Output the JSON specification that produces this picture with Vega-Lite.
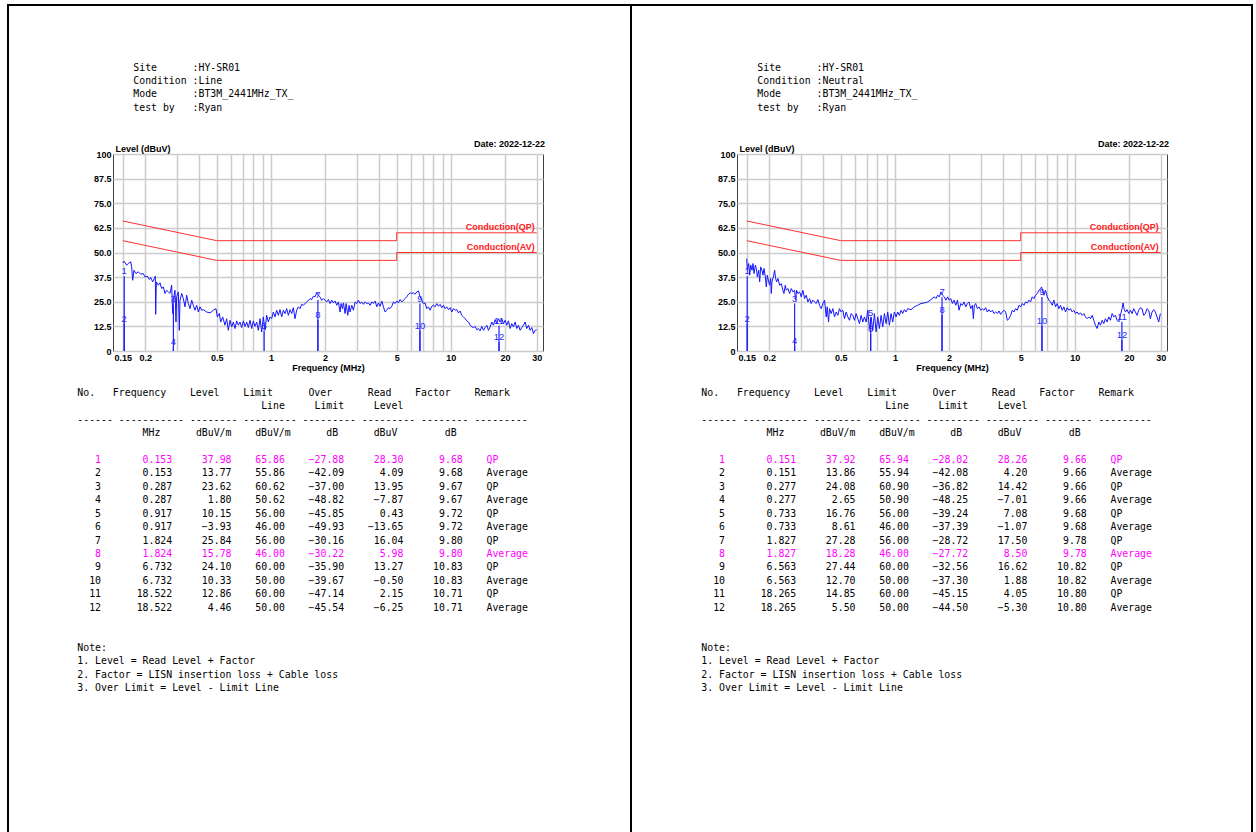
{
"$schema": "https://vega.github.io/schema/vega-lite/v6.json",
"padding": {"left": 7, "top": 4, "right": 0, "bottom": 0},
"config": {"view": {"stroke": null}, "font": "Liberation Sans", "concat": {"spacing": 0},
 "axis": {"grid": true, "gridColor": "#cccccc", "gridWidth": 1.5, "domain": false, "ticks": false, "tickSize": 0, "labelPadding": 2, "labelFont": "Liberation Sans", "labelFontSize": 9, "labelFontWeight": "bold", "labelColor": "#000000", "labelOverlap": false, "labelFlush": false, "labelBound": false, "titleFont": "Liberation Sans", "titleFontSize": 9, "titleFontWeight": "bold", "titleColor": "#000000"},
 "axisX": {"titlePadding": 1},
 "axisY": {"titleAngle": 0, "titleAlign": "left", "titleBaseline": "bottom", "titleX": 2, "titleY": -1}},
"datasets": {
"line_info": [{"item":"Site","value":"HY-SR01"},{"item":"Condition","value":"Line"},{"item":"Mode","value":"BT3M_2441MHz_TX_"},{"item":"test by","value":"Ryan"}],
"neutral_info": [{"item":"Site","value":"HY-SR01"},{"item":"Condition","value":"Neutral"},{"item":"Mode","value":"BT3M_2441MHz_TX_"},{"item":"test by","value":"Ryan"}],
"limits": [
{"limit":"Conduction(QP)","f":0.15,"v":66},{"limit":"Conduction(QP)","f":0.5,"v":56},{"limit":"Conduction(QP)","f":5,"v":56},{"limit":"Conduction(QP)","f":5,"v":60},{"limit":"Conduction(QP)","f":30,"v":60},
{"limit":"Conduction(AV)","f":0.15,"v":56},{"limit":"Conduction(AV)","f":0.5,"v":46},{"limit":"Conduction(AV)","f":5,"v":46},{"limit":"Conduction(AV)","f":5,"v":50},{"limit":"Conduction(AV)","f":30,"v":50}],
"line_peaks": [
{"no":1,"freq":0.153,"level":37.98,"limit":65.86,"over":-27.88,"read":28.30,"factor":9.68,"remark":"QP"},
{"no":2,"freq":0.153,"level":13.77,"limit":55.86,"over":-42.09,"read":4.09,"factor":9.68,"remark":"Average"},
{"no":3,"freq":0.287,"level":23.62,"limit":60.62,"over":-37.00,"read":13.95,"factor":9.67,"remark":"QP"},
{"no":4,"freq":0.287,"level":1.80,"limit":50.62,"over":-48.82,"read":-7.87,"factor":9.67,"remark":"Average"},
{"no":5,"freq":0.917,"level":10.15,"limit":56.00,"over":-45.85,"read":0.43,"factor":9.72,"remark":"QP"},
{"no":6,"freq":0.917,"level":-3.93,"limit":46.00,"over":-49.93,"read":-13.65,"factor":9.72,"remark":"Average"},
{"no":7,"freq":1.824,"level":25.84,"limit":56.00,"over":-30.16,"read":16.04,"factor":9.80,"remark":"QP"},
{"no":8,"freq":1.824,"level":15.78,"limit":46.00,"over":-30.22,"read":5.98,"factor":9.80,"remark":"Average"},
{"no":9,"freq":6.732,"level":24.10,"limit":60.00,"over":-35.90,"read":13.27,"factor":10.83,"remark":"QP"},
{"no":10,"freq":6.732,"level":10.33,"limit":50.00,"over":-39.67,"read":-0.50,"factor":10.83,"remark":"Average"},
{"no":11,"freq":18.522,"level":12.86,"limit":60.00,"over":-47.14,"read":2.15,"factor":10.71,"remark":"QP"},
{"no":12,"freq":18.522,"level":4.46,"limit":50.00,"over":-45.54,"read":-6.25,"factor":10.71,"remark":"Average"}],
"neutral_peaks": [
{"no":1,"freq":0.151,"level":37.92,"limit":65.94,"over":-28.02,"read":28.26,"factor":9.66,"remark":"QP"},
{"no":2,"freq":0.151,"level":13.86,"limit":55.94,"over":-42.08,"read":4.20,"factor":9.66,"remark":"Average"},
{"no":3,"freq":0.277,"level":24.08,"limit":60.90,"over":-36.82,"read":14.42,"factor":9.66,"remark":"QP"},
{"no":4,"freq":0.277,"level":2.65,"limit":50.90,"over":-48.25,"read":-7.01,"factor":9.66,"remark":"Average"},
{"no":5,"freq":0.733,"level":16.76,"limit":56.00,"over":-39.24,"read":7.08,"factor":9.68,"remark":"QP"},
{"no":6,"freq":0.733,"level":8.61,"limit":46.00,"over":-37.39,"read":-1.07,"factor":9.68,"remark":"Average"},
{"no":7,"freq":1.827,"level":27.28,"limit":56.00,"over":-28.72,"read":17.50,"factor":9.78,"remark":"QP"},
{"no":8,"freq":1.827,"level":18.28,"limit":46.00,"over":-27.72,"read":8.50,"factor":9.78,"remark":"Average"},
{"no":9,"freq":6.563,"level":27.44,"limit":60.00,"over":-32.56,"read":16.62,"factor":10.82,"remark":"QP"},
{"no":10,"freq":6.563,"level":12.70,"limit":50.00,"over":-37.30,"read":1.88,"factor":10.82,"remark":"Average"},
{"no":11,"freq":18.265,"level":14.85,"limit":60.00,"over":-45.15,"read":4.05,"factor":10.80,"remark":"QP"},
{"no":12,"freq":18.265,"level":5.50,"limit":50.00,"over":-44.50,"read":-5.30,"factor":10.80,"remark":"Average"}],
"line_trace": [
{"f":0.150,"v":44.7},{"f":0.1525,"v":45.6},{"f":0.1578,"v":43.6},{"f":0.1612,"v":44.4},{"f":0.1661,"v":45.3},{"f":0.1683,"v":42.7},{"f":0.1704,"v":35.9},{"f":0.1733,"v":41.0},{"f":0.1778,"v":39.3},{"f":0.1832,"v":40.2},{"f":0.1888,"v":39.0},{"f":0.1953,"v":39.3},{"f":0.1995,"v":37.6},{"f":0.2056,"v":38.0},{"f":0.2109,"v":36.3},{"f":0.2146,"v":37.3},{"f":0.2201,"v":35.1},{"f":0.2249,"v":36.8},{"f":0.2278,"v":38.0},{"f":0.2288,"v":18.6},{"f":0.2307,"v":35.1},{"f":0.2367,"v":33.4},{"f":0.2418,"v":34.6},{"f":0.2470,"v":31.7},{"f":0.2523,"v":32.5},{"f":0.2578,"v":29.2},{"f":0.2633,"v":30.8},{"f":0.2690,"v":30.0},{"f":0.2748,"v":29.2},{"f":0.2807,"v":33.4},{"f":0.2844,"v":19.0},{"f":0.2868,"v":25.8},{"f":0.2930,"v":30.8},{"f":0.2967,"v":14.7},{"f":0.2993,"v":27.5},{"f":0.3057,"v":30.0},{"f":0.3097,"v":10.5},{"f":0.3123,"v":25.8},{"f":0.3191,"v":29.2},{"f":0.3260,"v":26.6},{"f":0.3330,"v":22.4},{"f":0.3402,"v":28.3},{"f":0.3475,"v":24.1},{"f":0.3550,"v":21.5},{"f":0.3627,"v":25.8},{"f":0.3705,"v":23.2},{"f":0.3784,"v":20.7},{"f":0.3866,"v":23.2},{"f":0.3949,"v":19.8},{"f":0.4034,"v":22.4},{"f":0.4122,"v":20.7},{"f":0.4210,"v":21.0},{"f":0.4394,"v":19.8},{"f":0.4585,"v":19.3},{"f":0.4785,"v":20.7},{"f":0.4951,"v":21.5},{"f":0.5037,"v":17.3},{"f":0.5167,"v":19.0},{"f":0.5256,"v":14.7},{"f":0.5393,"v":17.3},{"f":0.5556,"v":13.1},{"f":0.5676,"v":16.4},{"f":0.5798,"v":10.5},{"f":0.5923,"v":15.6},{"f":0.6052,"v":12.2},{"f":0.6182,"v":14.7},{"f":0.6315,"v":11.4},{"f":0.6451,"v":15.3},{"f":0.6590,"v":13.1},{"f":0.6732,"v":14.7},{"f":0.6878,"v":11.9},{"f":0.7026,"v":15.3},{"f":0.7177,"v":12.5},{"f":0.7332,"v":14.7},{"f":0.7490,"v":11.9},{"f":0.7652,"v":15.6},{"f":0.7817,"v":11.4},{"f":0.7985,"v":15.3},{"f":0.8157,"v":12.5},{"f":0.8334,"v":14.7},{"f":0.8513,"v":10.5},{"f":0.8696,"v":16.4},{"f":0.8885,"v":9.7},{"f":0.9074,"v":17.3},{"f":0.9270,"v":10.5},{"f":0.9470,"v":18.1},{"f":0.9674,"v":14.7},{"f":0.9883,"v":17.3},{"f":1.0096,"v":16.4},{"f":1.0314,"v":19.8},{"f":1.0536,"v":17.3},{"f":1.0764,"v":20.7},{"f":1.0995,"v":18.1},{"f":1.1232,"v":21.0},{"f":1.1475,"v":17.3},{"f":1.1722,"v":20.7},{"f":1.1974,"v":19.0},{"f":1.2233,"v":21.5},{"f":1.2497,"v":18.1},{"f":1.2766,"v":21.0},{"f":1.3042,"v":19.0},{"f":1.3323,"v":22.0},{"f":1.3610,"v":16.4},{"f":1.3904,"v":20.7},{"f":1.4203,"v":22.4},{"f":1.4509,"v":21.5},{"f":1.4823,"v":23.7},{"f":1.5142,"v":23.2},{"f":1.5802,"v":24.9},{"f":1.6490,"v":26.6},{"f":1.6847,"v":26.1},{"f":1.7209,"v":27.8},{"f":1.7580,"v":27.5},{"f":1.7960,"v":29.5},{"f":1.8347,"v":28.3},{"f":1.8742,"v":27.5},{"f":1.9147,"v":25.8},{"f":1.9559,"v":26.6},
{"f":2.000,"v":25.8},{"f":2.043,"v":24.9},{"f":2.087,"v":26.1},{"f":2.132,"v":24.1},{"f":2.178,"v":25.8},{"f":2.225,"v":24.4},{"f":2.273,"v":25.4},{"f":2.322,"v":23.2},{"f":2.372,"v":24.9},{"f":2.423,"v":19.8},{"f":2.454,"v":24.1},{"f":2.497,"v":21.5},{"f":2.529,"v":24.4},{"f":2.583,"v":19.0},{"f":2.617,"v":24.1},{"f":2.673,"v":18.1},{"f":2.719,"v":23.2},{"f":2.754,"v":19.8},{"f":2.814,"v":23.2},{"f":2.874,"v":20.7},{"f":2.936,"v":24.9},{"f":3.000,"v":24.1},{"f":3.064,"v":25.8},{"f":3.130,"v":24.1},{"f":3.198,"v":24.9},{"f":3.267,"v":23.7},{"f":3.337,"v":24.9},{"f":3.410,"v":24.1},{"f":3.483,"v":24.4},{"f":3.558,"v":23.2},{"f":3.635,"v":24.9},{"f":3.713,"v":24.1},{"f":3.793,"v":25.4},{"f":3.875,"v":22.4},{"f":3.958,"v":24.4},{"f":4.044,"v":22.7},{"f":4.131,"v":25.4},{"f":4.220,"v":22.4},{"f":4.311,"v":19.8},{"f":4.404,"v":20.7},{"f":4.499,"v":22.0},{"f":4.596,"v":21.5},{"f":4.695,"v":22.7},{"f":4.796,"v":24.9},{"f":4.899,"v":24.1},{"f":5.005,"v":25.4},{"f":5.113,"v":24.4},{"f":5.223,"v":26.1},{"f":5.336,"v":24.9},{"f":5.451,"v":25.8},{"f":5.569,"v":26.6},{"f":5.689,"v":27.5},{"f":5.812,"v":28.8},{"f":5.937,"v":29.5},{"f":6.065,"v":29.2},{"f":6.196,"v":29.5},{"f":6.329,"v":28.8},{"f":6.466,"v":30.0},{"f":6.605,"v":30.5},{"f":6.747,"v":27.5},{"f":6.893,"v":25.8},{"f":7.042,"v":24.1},{"f":7.193,"v":24.4},{"f":7.349,"v":21.5},{"f":7.507,"v":22.4},{"f":7.669,"v":20.7},{"f":7.834,"v":22.7},{"f":8.003,"v":23.2},{"f":8.175,"v":22.4},{"f":8.352,"v":24.1},{"f":8.532,"v":22.7},{"f":8.716,"v":23.7},{"f":8.904,"v":22.0},{"f":9.096,"v":23.2},{"f":9.292,"v":21.5},{"f":9.493,"v":22.4},{"f":9.697,"v":21.0},{"f":9.906,"v":22.0},{"f":10.12,"v":19.8},{"f":10.34,"v":21.5},{"f":10.56,"v":20.7},{"f":10.79,"v":21.0},{"f":11.02,"v":19.3},{"f":11.26,"v":20.3},{"f":11.50,"v":18.1},{"f":11.75,"v":17.3},{"f":12.00,"v":16.4},{"f":12.26,"v":15.3},{"f":12.53,"v":14.7},{"f":12.80,"v":13.1},{"f":13.07,"v":12.2},{"f":13.35,"v":11.9},{"f":13.64,"v":12.5},{"f":13.94,"v":10.8},{"f":14.24,"v":11.4},{"f":14.54,"v":10.2},{"f":14.86,"v":12.5},{"f":15.18,"v":10.5},{"f":15.50,"v":11.9},{"f":15.84,"v":13.1},{"f":16.18,"v":10.5},{"f":16.53,"v":12.2},{"f":16.89,"v":14.7},{"f":17.25,"v":13.1},{"f":17.62,"v":15.9},{"f":18.00,"v":13.9},{"f":18.39,"v":16.4},{"f":18.79,"v":14.7},{"f":19.19,"v":16.4},{"f":19.61,"v":13.9},{"f":20.03,"v":15.6},{"f":20.46,"v":13.1},{"f":20.90,"v":15.3},{"f":21.35,"v":11.4},{"f":21.81,"v":13.9},{"f":22.28,"v":12.2},{"f":22.76,"v":14.7},{"f":23.26,"v":11.4},{"f":23.76,"v":13.1},{"f":24.27,"v":10.5},{"f":24.79,"v":11.9},{"f":25.33,"v":13.1},{"f":25.87,"v":14.7},{"f":26.43,"v":11.4},{"f":27.00,"v":13.1},{"f":27.58,"v":10.5},{"f":28.18,"v":11.9},{"f":28.78,"v":8.8},{"f":29.40,"v":10.5},{"f":30.00,"v":10.8}],
"neutral_trace": [
{"f":0.150,"v":46.9},{"f":0.1513,"v":41.0},{"f":0.1539,"v":44.4},{"f":0.1559,"v":38.5},{"f":0.1579,"v":43.6},{"f":0.1606,"v":41.0},{"f":0.1626,"v":44.4},{"f":0.1647,"v":39.3},{"f":0.1676,"v":43.6},{"f":0.1697,"v":41.9},{"f":0.1719,"v":37.6},{"f":0.1749,"v":41.0},{"f":0.1771,"v":35.1},{"f":0.1794,"v":42.7},{"f":0.1824,"v":41.0},{"f":0.1848,"v":38.5},{"f":0.1872,"v":41.9},{"f":0.1904,"v":37.6},{"f":0.1928,"v":32.5},{"f":0.1953,"v":38.5},{"f":0.1987,"v":35.1},{"f":0.2012,"v":33.4},{"f":0.2038,"v":36.8},{"f":0.2055,"v":29.2},{"f":0.2073,"v":35.1},{"f":0.2109,"v":37.6},{"f":0.2145,"v":41.0},{"f":0.2172,"v":36.8},{"f":0.2200,"v":35.1},{"f":0.2238,"v":36.8},{"f":0.2286,"v":33.4},{"f":0.2336,"v":34.2},{"f":0.2386,"v":30.8},{"f":0.2416,"v":29.2},{"f":0.2458,"v":33.4},{"f":0.2489,"v":30.8},{"f":0.2543,"v":31.7},{"f":0.2598,"v":29.2},{"f":0.2654,"v":31.7},{"f":0.2711,"v":30.0},{"f":0.2769,"v":30.8},{"f":0.2805,"v":25.8},{"f":0.2841,"v":30.8},{"f":0.2889,"v":29.2},{"f":0.2952,"v":30.0},{"f":0.3015,"v":27.5},{"f":0.3080,"v":30.8},{"f":0.3146,"v":26.6},{"f":0.3214,"v":28.3},{"f":0.3283,"v":24.9},{"f":0.3354,"v":26.6},{"f":0.3426,"v":24.1},{"f":0.3499,"v":25.8},{"f":0.3575,"v":24.9},{"f":0.3651,"v":24.1},{"f":0.3730,"v":26.1},{"f":0.3810,"v":23.2},{"f":0.3893,"v":21.5},{"f":0.3976,"v":24.1},{"f":0.4062,"v":25.8},{"f":0.4149,"v":17.3},{"f":0.4202,"v":22.4},{"f":0.4275,"v":14.7},{"f":0.4330,"v":21.5},{"f":0.4423,"v":19.0},{"f":0.4518,"v":21.5},{"f":0.4615,"v":17.3},{"f":0.4715,"v":19.8},{"f":0.4816,"v":18.1},{"f":0.4919,"v":21.5},{"f":0.5025,"v":19.8},{"f":0.5133,"v":20.7},{"f":0.5244,"v":16.4},{"f":0.5357,"v":19.8},{"f":0.5472,"v":17.3},{"f":0.5589,"v":15.6},{"f":0.5710,"v":19.0},{"f":0.5832,"v":18.1},{"f":0.5958,"v":15.6},{"f":0.6087,"v":19.0},{"f":0.6217,"v":16.4},{"f":0.6351,"v":13.9},{"f":0.6488,"v":18.1},{"f":0.6627,"v":14.7},{"f":0.6770,"v":17.3},{"f":0.6916,"v":14.7},{"f":0.7064,"v":20.7},{"f":0.7216,"v":11.4},{"f":0.7372,"v":17.3},{"f":0.7530,"v":10.5},{"f":0.7692,"v":19.0},{"f":0.7858,"v":9.7},{"f":0.8026,"v":17.3},{"f":0.8199,"v":11.4},{"f":0.8376,"v":18.1},{"f":0.8556,"v":12.2},{"f":0.8740,"v":19.0},{"f":0.8928,"v":13.9},{"f":0.9120,"v":19.8},{"f":0.9316,"v":13.1},{"f":0.9517,"v":19.0},{"f":0.9721,"v":14.7},{"f":0.9929,"v":19.8},{"f":1.0143,"v":17.3},{"f":1.0362,"v":19.8},{"f":1.0585,"v":18.1},{"f":1.0813,"v":20.7},{"f":1.1045,"v":19.0},{"f":1.1282,"v":21.0},{"f":1.1525,"v":19.8},{"f":1.1773,"v":21.5},{"f":1.2286,"v":21.0},{"f":1.2819,"v":22.4},{"f":1.3378,"v":23.2},{"f":1.3960,"v":24.1},{"f":1.4566,"v":24.4},{"f":1.5200,"v":24.9},{"f":1.5862,"v":26.1},{"f":1.6552,"v":27.5},{"f":1.6908,"v":26.6},{"f":1.7270,"v":28.3},{"f":1.7643,"v":27.5},{"f":1.8022,"v":30.0},{"f":1.8408,"v":28.3},{"f":1.8805,"v":27.5},{"f":1.9210,"v":25.8},{"f":1.9623,"v":27.5},
{"f":2.000,"v":25.8},{"f":2.043,"v":26.6},{"f":2.087,"v":24.1},{"f":2.132,"v":25.8},{"f":2.178,"v":23.2},{"f":2.225,"v":25.8},{"f":2.272,"v":20.7},{"f":2.321,"v":24.1},{"f":2.371,"v":23.2},{"f":2.422,"v":24.9},{"f":2.474,"v":22.4},{"f":2.528,"v":24.1},{"f":2.582,"v":24.9},{"f":2.638,"v":21.5},{"f":2.694,"v":23.2},{"f":2.729,"v":16.4},{"f":2.764,"v":23.2},{"f":2.811,"v":24.1},{"f":2.872,"v":21.5},{"f":2.934,"v":22.4},{"f":2.997,"v":20.7},{"f":3.061,"v":21.5},{"f":3.127,"v":20.7},{"f":3.194,"v":22.0},{"f":3.263,"v":19.8},{"f":3.333,"v":21.0},{"f":3.405,"v":19.8},{"f":3.478,"v":20.7},{"f":3.553,"v":19.0},{"f":3.630,"v":19.8},{"f":3.708,"v":19.0},{"f":3.787,"v":20.3},{"f":3.869,"v":18.6},{"f":3.952,"v":19.8},{"f":4.037,"v":20.7},{"f":4.124,"v":19.8},{"f":4.213,"v":15.6},{"f":4.303,"v":16.4},{"f":4.396,"v":18.1},{"f":4.491,"v":20.7},{"f":4.587,"v":19.8},{"f":4.686,"v":21.5},{"f":4.787,"v":20.7},{"f":4.890,"v":23.2},{"f":4.995,"v":22.4},{"f":5.102,"v":24.1},{"f":5.212,"v":23.2},{"f":5.324,"v":24.9},{"f":5.439,"v":24.4},{"f":5.556,"v":25.8},{"f":5.675,"v":24.9},{"f":5.798,"v":27.5},{"f":5.922,"v":26.6},{"f":6.050,"v":28.3},{"f":6.180,"v":29.2},{"f":6.313,"v":30.8},{"f":6.449,"v":31.7},{"f":6.531,"v":32.5},{"f":6.644,"v":30.0},{"f":6.729,"v":28.3},{"f":6.874,"v":30.8},{"f":7.022,"v":27.5},{"f":7.173,"v":25.8},{"f":7.327,"v":24.9},{"f":7.485,"v":23.2},{"f":7.646,"v":25.8},{"f":7.810,"v":22.4},{"f":7.979,"v":24.1},{"f":8.150,"v":21.5},{"f":8.326,"v":23.2},{"f":8.505,"v":20.7},{"f":8.688,"v":22.4},{"f":8.875,"v":19.8},{"f":9.066,"v":22.0},{"f":9.261,"v":20.7},{"f":9.460,"v":21.5},{"f":9.663,"v":19.8},{"f":9.871,"v":20.7},{"f":10.08,"v":19.0},{"f":10.30,"v":19.8},{"f":10.52,"v":18.6},{"f":10.75,"v":19.3},{"f":10.98,"v":18.1},{"f":11.22,"v":19.0},{"f":11.46,"v":17.3},{"f":11.70,"v":16.4},{"f":11.96,"v":17.3},{"f":12.21,"v":16.4},{"f":12.48,"v":18.1},{"f":12.74,"v":15.6},{"f":13.02,"v":13.1},{"f":13.30,"v":11.4},{"f":13.59,"v":14.7},{"f":13.88,"v":13.1},{"f":14.18,"v":15.6},{"f":14.48,"v":13.9},{"f":14.79,"v":16.4},{"f":15.11,"v":14.7},{"f":15.44,"v":17.3},{"f":15.77,"v":15.6},{"f":16.11,"v":19.0},{"f":16.45,"v":17.3},{"f":16.81,"v":18.1},{"f":17.17,"v":15.6},{"f":17.54,"v":14.7},{"f":17.92,"v":18.1},{"f":18.30,"v":21.5},{"f":18.53,"v":24.4},{"f":18.77,"v":21.5},{"f":19.10,"v":19.8},{"f":19.51,"v":21.0},{"f":19.93,"v":19.0},{"f":20.36,"v":20.7},{"f":20.80,"v":19.0},{"f":21.24,"v":21.5},{"f":21.70,"v":19.8},{"f":22.17,"v":18.1},{"f":22.64,"v":20.7},{"f":23.13,"v":22.0},{"f":23.63,"v":21.5},{"f":24.14,"v":18.1},{"f":24.66,"v":19.0},{"f":25.19,"v":21.5},{"f":25.73,"v":20.7},{"f":26.28,"v":16.4},{"f":26.85,"v":19.8},{"f":27.43,"v":21.0},{"f":28.02,"v":19.8},{"f":28.62,"v":17.3},{"f":29.24,"v":14.7},{"f":29.87,"v":19.0}]
},
"columns": 7,
"bounds": "flush",
"align": "each",
"spacing": 0,
"concat": [
{"width": 2, "height": 2, "data": {"values": []}, "mark": "point", "view": {"fill": "#000000", "stroke": null}},
{"width": 104, "height": 2, "data": {"values": []}, "mark": "point", "view": {"fill": "#000000", "stroke": null}},
{"width": 517, "height": 2, "data": {"values": []}, "mark": "point", "view": {"fill": "#000000", "stroke": null}},
{"width": 2, "height": 2, "data": {"values": []}, "mark": "point", "view": {"fill": "#000000", "stroke": null}},
{"width": 105, "height": 2, "data": {"values": []}, "mark": "point", "view": {"fill": "#000000", "stroke": null}},
{"width": 514, "height": 2, "data": {"values": []}, "mark": "point", "view": {"fill": "#000000", "stroke": null}},
{"width": 2, "height": 2, "data": {"values": []}, "mark": "point", "view": {"fill": "#000000", "stroke": null}},

{"width": 2, "height": 148, "data": {"values": []}, "mark": "point", "view": {"fill": "#000000", "stroke": null}},
{"width": 104, "height": 148, "data": {"name": "line_info"},
 "transform": [{"window": [{"op": "row_number", "as": "line"}]}],
 "encoding": {"y": {"field": "line", "type": "quantitative", "axis": null, "scale": {"domain": [-3.629, 7.474], "reverse": true, "nice": false, "zero": false}}},
 "layer": [
  {"mark": {"type": "text", "align": "left", "baseline": "middle", "font": "DejaVu Sans Mono", "fontSize": 9.85, "color": "#000000"}, "encoding": {"x": {"datum": 0, "type": "quantitative", "scale": {"domain": [-20.96, -3.42], "nice": false, "zero": false}, "axis": null}, "text": {"field": "item"}}},
  {"mark": {"type": "text", "align": "left", "baseline": "middle", "font": "DejaVu Sans Mono", "fontSize": 9.85, "color": "#000000"}, "encoding": {"x": {"datum": 10, "type": "quantitative", "axis": null}, "text": {"value": ":"}}},
  {"mark": {"type": "text", "align": "left", "baseline": "middle", "font": "DejaVu Sans Mono", "fontSize": 9.85, "color": "#000000"}, "encoding": {"x": {"datum": 11, "type": "quantitative", "axis": null}, "text": {"field": "value"}}}
 ]},
{"width": 517, "height": 148, "data": {"values": []}, "mark": "point"},
{"width": 2, "height": 148, "data": {"values": []}, "mark": "point", "view": {"fill": "#000000", "stroke": null}},
{"width": 105, "height": 148, "data": {"name": "neutral_info"},
 "transform": [{"window": [{"op": "row_number", "as": "line"}]}],
 "encoding": {"y": {"field": "line", "type": "quantitative", "axis": null, "scale": {"domain": [-3.629, 7.474], "reverse": true, "nice": false, "zero": false}}},
 "layer": [
  {"mark": {"type": "text", "align": "left", "baseline": "middle", "font": "DejaVu Sans Mono", "fontSize": 9.85, "color": "#000000"}, "encoding": {"x": {"datum": 0, "type": "quantitative", "scale": {"domain": [-21.13, -3.42], "nice": false, "zero": false}, "axis": null}, "text": {"field": "item"}}},
  {"mark": {"type": "text", "align": "left", "baseline": "middle", "font": "DejaVu Sans Mono", "fontSize": 9.85, "color": "#000000"}, "encoding": {"x": {"datum": 10, "type": "quantitative", "axis": null}, "text": {"value": ":"}}},
  {"mark": {"type": "text", "align": "left", "baseline": "middle", "font": "DejaVu Sans Mono", "fontSize": 9.85, "color": "#000000"}, "encoding": {"x": {"datum": 11, "type": "quantitative", "axis": null}, "text": {"field": "value"}}}
 ]},
{"width": 514, "height": 148, "data": {"values": []}, "mark": "point"},
{"width": 2, "height": 148, "data": {"values": []}, "mark": "point", "view": {"fill": "#000000", "stroke": null}},

{"width": 2, "height": 197, "data": {"values": []}, "mark": "point", "view": {"fill": "#000000", "stroke": null}},
{"width": 104, "height": 197, "data": {"values": []}, "mark": "point"},
{"width": 430, "height": 197,
  "view": {"stroke": "#404040", "strokeWidth": 1},
  "title": {"text": "Date: 2022-12-22", "orient": "top", "anchor": "end", "frame": "group", "baseline": "bottom", "offset": -14, "dx": 2, "font": "Liberation Sans", "fontSize": 9, "fontWeight": "bold", "color": "#000000"},
  "layer": [
   {"data": {"name": "line_trace"},
    "mark": {"type": "line", "color": "#1515ff", "strokeWidth": 1, "clip": true},
    "encoding": {
     "x": {"field": "f", "type": "quantitative", "title": "Frequency (MHz)", "scale": {"type": "log", "domain": [0.1325, 32.52], "nice": false},
      "axis": {"values": [0.15,0.2,0.3,0.4,0.5,0.6,0.7,0.8,0.9,1,2,3,4,5,6,7,8,9,10,20,30], "format": "~g", "labelExpr": "indexof([0.15,0.2,0.5,1,2,5,10,20,30], datum.value) >= 0 ? datum.label : ''"}},
     "y": {"field": "v", "type": "quantitative", "title": "Level (dBuV)", "scale": {"domain": [0, 100], "nice": false, "zero": false},
      "axis": {"values": [0,12.5,25,37.5,50,62.5,75,87.5,100], "labelExpr": "datum.value == 0 || datum.value == 100 ? format(datum.value, 'd') : format(datum.value, '.1f')"}}
    }},
   {"data": {"name": "limits"},
    "mark": {"type": "line", "color": "#ff3030", "strokeWidth": 1, "clip": true},
    "encoding": {"x": {"field": "f", "type": "quantitative", "title": "Frequency (MHz)", "axis": {"values": [0.15,0.2,0.3,0.4,0.5,0.6,0.7,0.8,0.9,1,2,3,4,5,6,7,8,9,10,20,30], "format": "~g", "labelExpr": "indexof([0.15,0.2,0.5,1,2,5,10,20,30], datum.value) >= 0 ? datum.label : ''"}},
                 "y": {"field": "v", "type": "quantitative", "title": "Level (dBuV)", "axis": {"values": [0,12.5,25,37.5,50,62.5,75,87.5,100], "labelExpr": "datum.value == 0 || datum.value == 100 ? format(datum.value, 'd') : format(datum.value, '.1f')"}},
                 "detail": {"field": "limit"}, "order": {"value": null}}},
   {"data": {"name": "limits"}, "transform": [{"filter": "datum.f == 30"}],
    "mark": {"type": "text", "align": "right", "baseline": "bottom", "dx": -2, "dy": -1, "color": "#ff2020", "font": "Liberation Sans", "fontSize": 9, "fontWeight": "bold"},
    "encoding": {"x": {"field": "f", "type": "quantitative", "title": "Frequency (MHz)", "axis": {"values": [0.15,0.2,0.3,0.4,0.5,0.6,0.7,0.8,0.9,1,2,3,4,5,6,7,8,9,10,20,30], "format": "~g", "labelExpr": "indexof([0.15,0.2,0.5,1,2,5,10,20,30], datum.value) >= 0 ? datum.label : ''"}},
                 "y": {"field": "v", "type": "quantitative", "title": "Level (dBuV)", "axis": {"values": [0,12.5,25,37.5,50,62.5,75,87.5,100], "labelExpr": "datum.value == 0 || datum.value == 100 ? format(datum.value, 'd') : format(datum.value, '.1f')"}},
                 "text": {"field": "limit"}}},
   {"data": {"name": "line_peaks"},
    "mark": {"type": "rule", "color": "#2020ff", "strokeWidth": 1.2, "clip": true},
    "encoding": {"x": {"field": "freq", "type": "quantitative", "title": "Frequency (MHz)", "axis": {"values": [0.15,0.2,0.3,0.4,0.5,0.6,0.7,0.8,0.9,1,2,3,4,5,6,7,8,9,10,20,30], "format": "~g", "labelExpr": "indexof([0.15,0.2,0.5,1,2,5,10,20,30], datum.value) >= 0 ? datum.label : ''"}},
                 "y": {"field": "level", "type": "quantitative", "title": "Level (dBuV)", "axis": {"values": [0,12.5,25,37.5,50,62.5,75,87.5,100], "labelExpr": "datum.value == 0 || datum.value == 100 ? format(datum.value, 'd') : format(datum.value, '.1f')"}},
                 "y2": {"datum": 0}}},
   {"data": {"name": "line_peaks"},
    "mark": {"type": "text", "baseline": "bottom", "align": "center", "color": "#2a2aff", "font": "Liberation Sans", "fontSize": 9.5, "clip": true},
    "encoding": {"x": {"field": "freq", "type": "quantitative", "title": "Frequency (MHz)", "axis": {"values": [0.15,0.2,0.3,0.4,0.5,0.6,0.7,0.8,0.9,1,2,3,4,5,6,7,8,9,10,20,30], "format": "~g", "labelExpr": "indexof([0.15,0.2,0.5,1,2,5,10,20,30], datum.value) >= 0 ? datum.label : ''"}},
                 "y": {"field": "level", "type": "quantitative", "title": "Level (dBuV)", "axis": {"values": [0,12.5,25,37.5,50,62.5,75,87.5,100], "labelExpr": "datum.value == 0 || datum.value == 100 ? format(datum.value, 'd') : format(datum.value, '.1f')"}},
                 "text": {"field": "no"}}}
  ]},
{"width": 2, "height": 197, "data": {"values": []}, "mark": "point", "view": {"fill": "#000000", "stroke": null}},
{"width": 105, "height": 197, "data": {"values": []}, "mark": "point"},
{"width": 430, "height": 197,
  "view": {"stroke": "#404040", "strokeWidth": 1},
  "title": {"text": "Date: 2022-12-22", "orient": "top", "anchor": "end", "frame": "group", "baseline": "bottom", "offset": -14, "dx": 2, "font": "Liberation Sans", "fontSize": 9, "fontWeight": "bold", "color": "#000000"},
  "layer": [
   {"data": {"name": "neutral_trace"},
    "mark": {"type": "line", "color": "#1515ff", "strokeWidth": 1, "clip": true},
    "encoding": {
     "x": {"field": "f", "type": "quantitative", "title": "Frequency (MHz)", "scale": {"type": "log", "domain": [0.1325, 32.52], "nice": false},
      "axis": {"values": [0.15,0.2,0.3,0.4,0.5,0.6,0.7,0.8,0.9,1,2,3,4,5,6,7,8,9,10,20,30], "format": "~g", "labelExpr": "indexof([0.15,0.2,0.5,1,2,5,10,20,30], datum.value) >= 0 ? datum.label : ''"}},
     "y": {"field": "v", "type": "quantitative", "title": "Level (dBuV)", "scale": {"domain": [0, 100], "nice": false, "zero": false},
      "axis": {"values": [0,12.5,25,37.5,50,62.5,75,87.5,100], "labelExpr": "datum.value == 0 || datum.value == 100 ? format(datum.value, 'd') : format(datum.value, '.1f')"}}
    }},
   {"data": {"name": "limits"},
    "mark": {"type": "line", "color": "#ff3030", "strokeWidth": 1, "clip": true},
    "encoding": {"x": {"field": "f", "type": "quantitative", "title": "Frequency (MHz)", "axis": {"values": [0.15,0.2,0.3,0.4,0.5,0.6,0.7,0.8,0.9,1,2,3,4,5,6,7,8,9,10,20,30], "format": "~g", "labelExpr": "indexof([0.15,0.2,0.5,1,2,5,10,20,30], datum.value) >= 0 ? datum.label : ''"}},
                 "y": {"field": "v", "type": "quantitative", "title": "Level (dBuV)", "axis": {"values": [0,12.5,25,37.5,50,62.5,75,87.5,100], "labelExpr": "datum.value == 0 || datum.value == 100 ? format(datum.value, 'd') : format(datum.value, '.1f')"}},
                 "detail": {"field": "limit"}, "order": {"value": null}}},
   {"data": {"name": "limits"}, "transform": [{"filter": "datum.f == 30"}],
    "mark": {"type": "text", "align": "right", "baseline": "bottom", "dx": -2, "dy": -1, "color": "#ff2020", "font": "Liberation Sans", "fontSize": 9, "fontWeight": "bold"},
    "encoding": {"x": {"field": "f", "type": "quantitative", "title": "Frequency (MHz)", "axis": {"values": [0.15,0.2,0.3,0.4,0.5,0.6,0.7,0.8,0.9,1,2,3,4,5,6,7,8,9,10,20,30], "format": "~g", "labelExpr": "indexof([0.15,0.2,0.5,1,2,5,10,20,30], datum.value) >= 0 ? datum.label : ''"}},
                 "y": {"field": "v", "type": "quantitative", "title": "Level (dBuV)", "axis": {"values": [0,12.5,25,37.5,50,62.5,75,87.5,100], "labelExpr": "datum.value == 0 || datum.value == 100 ? format(datum.value, 'd') : format(datum.value, '.1f')"}},
                 "text": {"field": "limit"}}},
   {"data": {"name": "neutral_peaks"},
    "mark": {"type": "rule", "color": "#2020ff", "strokeWidth": 1.2, "clip": true},
    "encoding": {"x": {"field": "freq", "type": "quantitative", "title": "Frequency (MHz)", "axis": {"values": [0.15,0.2,0.3,0.4,0.5,0.6,0.7,0.8,0.9,1,2,3,4,5,6,7,8,9,10,20,30], "format": "~g", "labelExpr": "indexof([0.15,0.2,0.5,1,2,5,10,20,30], datum.value) >= 0 ? datum.label : ''"}},
                 "y": {"field": "level", "type": "quantitative", "title": "Level (dBuV)", "axis": {"values": [0,12.5,25,37.5,50,62.5,75,87.5,100], "labelExpr": "datum.value == 0 || datum.value == 100 ? format(datum.value, 'd') : format(datum.value, '.1f')"}},
                 "y2": {"datum": 0}}},
   {"data": {"name": "neutral_peaks"},
    "mark": {"type": "text", "baseline": "bottom", "align": "center", "color": "#2a2aff", "font": "Liberation Sans", "fontSize": 9.5, "clip": true},
    "encoding": {"x": {"field": "freq", "type": "quantitative", "title": "Frequency (MHz)", "axis": {"values": [0.15,0.2,0.3,0.4,0.5,0.6,0.7,0.8,0.9,1,2,3,4,5,6,7,8,9,10,20,30], "format": "~g", "labelExpr": "indexof([0.15,0.2,0.5,1,2,5,10,20,30], datum.value) >= 0 ? datum.label : ''"}},
                 "y": {"field": "level", "type": "quantitative", "title": "Level (dBuV)", "axis": {"values": [0,12.5,25,37.5,50,62.5,75,87.5,100], "labelExpr": "datum.value == 0 || datum.value == 100 ? format(datum.value, 'd') : format(datum.value, '.1f')"}},
                 "text": {"field": "no"}}}
  ]},
{"width": 2, "height": 197, "data": {"values": []}, "mark": "point", "view": {"fill": "#000000", "stroke": null}},

{"width": 2, "height": 481, "data": {"values": []}, "mark": "point", "view": {"fill": "#000000", "stroke": null}},
{"width": 104, "height": 481,
 "layer": [
  {"data": {"values": [{}]},
   "mark": {"type": "text", "align": "left", "baseline": "middle", "font": "DejaVu Sans Mono", "fontSize": 9.85, "color": "#000000",
    "text": "No.\u00a0\u00a0\u00a0Frequency\u00a0\u00a0\u00a0\u00a0Level\u00a0\u00a0\u00a0\u00a0Limit\u00a0\u00a0\u00a0\u00a0\u00a0\u00a0Over\u00a0\u00a0\u00a0\u00a0\u00a0\u00a0Read\u00a0\u00a0\u00a0\u00a0Factor\u00a0\u00a0\u00a0\u00a0Remark"},
   "encoding": {"x": {"datum": 0, "type": "quantitative", "scale": {"domain": [-11.52, 6.018], "nice": false, "zero": false}, "axis": null},
                "y": {"datum": -4, "type": "quantitative", "scale": {"domain": [-7.116, 28.70], "reverse": true, "nice": false, "zero": false}, "axis": null}}},
  {"data": {"values": [{}]},
   "mark": {"type": "text", "align": "left", "baseline": "middle", "font": "DejaVu Sans Mono", "fontSize": 9.85, "color": "#000000",
    "text": "Line\u00a0\u00a0\u00a0\u00a0\u00a0Limit\u00a0\u00a0\u00a0\u00a0\u00a0Level"},
   "encoding": {"x": {"datum": 31, "type": "quantitative", "axis": null}, "y": {"datum": -3, "type": "quantitative", "axis": null}}},
  {"data": {"values": [{}]},
   "mark": {"type": "text", "align": "left", "baseline": "middle", "font": "DejaVu Sans Mono", "fontSize": 9.85, "color": "#000000",
    "text": "------ ----------- -------- --------- --------- --------- -------- ---------"},
   "encoding": {"x": {"datum": 0, "type": "quantitative", "axis": null}, "y": {"datum": -2, "type": "quantitative", "axis": null}}},
  {"data": {"values": [{}]},
   "mark": {"type": "text", "align": "left", "baseline": "middle", "font": "DejaVu Sans Mono", "fontSize": 9.85, "color": "#000000",
    "text": "MHz\u00a0\u00a0\u00a0\u00a0\u00a0\u00a0dBuV/m\u00a0\u00a0\u00a0\u00a0dBuV/m\u00a0\u00a0\u00a0\u00a0\u00a0\u00a0dB\u00a0\u00a0\u00a0\u00a0\u00a0\u00a0dBuV\u00a0\u00a0\u00a0\u00a0\u00a0\u00a0\u00a0\u00a0dB"},
   "encoding": {"x": {"datum": 11, "type": "quantitative", "axis": null}, "y": {"datum": -1, "type": "quantitative", "axis": null}}},
  {"data": {"values": [{}]},
   "mark": {"type": "text", "align": "left", "baseline": "middle", "lineHeight": 13.43, "font": "DejaVu Sans Mono", "fontSize": 9.85, "color": "#000000",
    "text": ["Note:", "1. Level = Read Level + Factor", "2. Factor = LISN insertion loss + Cable loss", "3. Over Limit = Level - Limit Line"]},
   "encoding": {"x": {"datum": 0, "type": "quantitative", "axis": null}, "y": {"datum": 15, "type": "quantitative", "axis": null}}},
  {"data": {"name": "line_peaks"},
   "transform": [{"joinaggregate": [{"op": "max", "field": "over", "as": "worst"}], "groupby": ["remark"]}],
   "encoding": {"y": {"field": "no", "type": "quantitative", "axis": null},
                "color": {"condition": {"test": "datum.over === datum.worst", "value": "#ff00ff"}, "value": "#000000"}},
   "layer": [
    {"mark": {"type": "text", "align": "right", "baseline": "middle", "font": "DejaVu Sans Mono", "fontSize": 9.85}, "encoding": {"x": {"datum": 4, "type": "quantitative", "axis": null}, "text": {"field": "no", "type": "quantitative", "format": "d"}}},
    {"mark": {"type": "text", "align": "right", "baseline": "middle", "font": "DejaVu Sans Mono", "fontSize": 9.85}, "encoding": {"x": {"datum": 16, "type": "quantitative", "axis": null}, "text": {"field": "freq", "type": "quantitative", "format": ".3f"}}},
    {"mark": {"type": "text", "align": "right", "baseline": "middle", "font": "DejaVu Sans Mono", "fontSize": 9.85}, "encoding": {"x": {"datum": 26, "type": "quantitative", "axis": null}, "text": {"field": "level", "type": "quantitative", "format": ".2f"}}},
    {"mark": {"type": "text", "align": "right", "baseline": "middle", "font": "DejaVu Sans Mono", "fontSize": 9.85}, "encoding": {"x": {"datum": 35, "type": "quantitative", "axis": null}, "text": {"field": "limit", "type": "quantitative", "format": ".2f"}}},
    {"mark": {"type": "text", "align": "right", "baseline": "middle", "font": "DejaVu Sans Mono", "fontSize": 9.85}, "encoding": {"x": {"datum": 45, "type": "quantitative", "axis": null}, "text": {"field": "over", "type": "quantitative", "format": ".2f"}}},
    {"mark": {"type": "text", "align": "right", "baseline": "middle", "font": "DejaVu Sans Mono", "fontSize": 9.85}, "encoding": {"x": {"datum": 55, "type": "quantitative", "axis": null}, "text": {"field": "read", "type": "quantitative", "format": ".2f"}}},
    {"mark": {"type": "text", "align": "right", "baseline": "middle", "font": "DejaVu Sans Mono", "fontSize": 9.85}, "encoding": {"x": {"datum": 65, "type": "quantitative", "axis": null}, "text": {"field": "factor", "type": "quantitative", "format": ".2f"}}},
    {"mark": {"type": "text", "align": "left", "baseline": "middle", "font": "DejaVu Sans Mono", "fontSize": 9.85}, "encoding": {"x": {"datum": 69, "type": "quantitative", "axis": null}, "text": {"field": "remark"}}}
   ]}
 ]},
{"width": 517, "height": 481, "data": {"values": []}, "mark": "point"},
{"width": 2, "height": 481, "data": {"values": []}, "mark": "point", "view": {"fill": "#000000", "stroke": null}},
{"width": 105, "height": 481,
 "layer": [
  {"data": {"values": [{}]},
   "mark": {"type": "text", "align": "left", "baseline": "middle", "font": "DejaVu Sans Mono", "fontSize": 9.85, "color": "#000000",
    "text": "No.\u00a0\u00a0\u00a0Frequency\u00a0\u00a0\u00a0\u00a0Level\u00a0\u00a0\u00a0\u00a0Limit\u00a0\u00a0\u00a0\u00a0\u00a0\u00a0Over\u00a0\u00a0\u00a0\u00a0\u00a0\u00a0Read\u00a0\u00a0\u00a0\u00a0Factor\u00a0\u00a0\u00a0\u00a0Remark"},
   "encoding": {"x": {"datum": 0, "type": "quantitative", "scale": {"domain": [-11.69, 6.017], "nice": false, "zero": false}, "axis": null},
                "y": {"datum": -4, "type": "quantitative", "scale": {"domain": [-7.116, 28.70], "reverse": true, "nice": false, "zero": false}, "axis": null}}},
  {"data": {"values": [{}]},
   "mark": {"type": "text", "align": "left", "baseline": "middle", "font": "DejaVu Sans Mono", "fontSize": 9.85, "color": "#000000",
    "text": "Line\u00a0\u00a0\u00a0\u00a0\u00a0Limit\u00a0\u00a0\u00a0\u00a0\u00a0Level"},
   "encoding": {"x": {"datum": 31, "type": "quantitative", "axis": null}, "y": {"datum": -3, "type": "quantitative", "axis": null}}},
  {"data": {"values": [{}]},
   "mark": {"type": "text", "align": "left", "baseline": "middle", "font": "DejaVu Sans Mono", "fontSize": 9.85, "color": "#000000",
    "text": "------ ----------- -------- --------- --------- --------- -------- ---------"},
   "encoding": {"x": {"datum": 0, "type": "quantitative", "axis": null}, "y": {"datum": -2, "type": "quantitative", "axis": null}}},
  {"data": {"values": [{}]},
   "mark": {"type": "text", "align": "left", "baseline": "middle", "font": "DejaVu Sans Mono", "fontSize": 9.85, "color": "#000000",
    "text": "MHz\u00a0\u00a0\u00a0\u00a0\u00a0\u00a0dBuV/m\u00a0\u00a0\u00a0\u00a0dBuV/m\u00a0\u00a0\u00a0\u00a0\u00a0\u00a0dB\u00a0\u00a0\u00a0\u00a0\u00a0\u00a0dBuV\u00a0\u00a0\u00a0\u00a0\u00a0\u00a0\u00a0\u00a0dB"},
   "encoding": {"x": {"datum": 11, "type": "quantitative", "axis": null}, "y": {"datum": -1, "type": "quantitative", "axis": null}}},
  {"data": {"values": [{}]},
   "mark": {"type": "text", "align": "left", "baseline": "middle", "lineHeight": 13.43, "font": "DejaVu Sans Mono", "fontSize": 9.85, "color": "#000000",
    "text": ["Note:", "1. Level = Read Level + Factor", "2. Factor = LISN insertion loss + Cable loss", "3. Over Limit = Level - Limit Line"]},
   "encoding": {"x": {"datum": 0, "type": "quantitative", "axis": null}, "y": {"datum": 15, "type": "quantitative", "axis": null}}},
  {"data": {"name": "neutral_peaks"},
   "transform": [{"joinaggregate": [{"op": "max", "field": "over", "as": "worst"}], "groupby": ["remark"]}],
   "encoding": {"y": {"field": "no", "type": "quantitative", "axis": null},
                "color": {"condition": {"test": "datum.over === datum.worst", "value": "#ff00ff"}, "value": "#000000"}},
   "layer": [
    {"mark": {"type": "text", "align": "right", "baseline": "middle", "font": "DejaVu Sans Mono", "fontSize": 9.85}, "encoding": {"x": {"datum": 4, "type": "quantitative", "axis": null}, "text": {"field": "no", "type": "quantitative", "format": "d"}}},
    {"mark": {"type": "text", "align": "right", "baseline": "middle", "font": "DejaVu Sans Mono", "fontSize": 9.85}, "encoding": {"x": {"datum": 16, "type": "quantitative", "axis": null}, "text": {"field": "freq", "type": "quantitative", "format": ".3f"}}},
    {"mark": {"type": "text", "align": "right", "baseline": "middle", "font": "DejaVu Sans Mono", "fontSize": 9.85}, "encoding": {"x": {"datum": 26, "type": "quantitative", "axis": null}, "text": {"field": "level", "type": "quantitative", "format": ".2f"}}},
    {"mark": {"type": "text", "align": "right", "baseline": "middle", "font": "DejaVu Sans Mono", "fontSize": 9.85}, "encoding": {"x": {"datum": 35, "type": "quantitative", "axis": null}, "text": {"field": "limit", "type": "quantitative", "format": ".2f"}}},
    {"mark": {"type": "text", "align": "right", "baseline": "middle", "font": "DejaVu Sans Mono", "fontSize": 9.85}, "encoding": {"x": {"datum": 45, "type": "quantitative", "axis": null}, "text": {"field": "over", "type": "quantitative", "format": ".2f"}}},
    {"mark": {"type": "text", "align": "right", "baseline": "middle", "font": "DejaVu Sans Mono", "fontSize": 9.85}, "encoding": {"x": {"datum": 55, "type": "quantitative", "axis": null}, "text": {"field": "read", "type": "quantitative", "format": ".2f"}}},
    {"mark": {"type": "text", "align": "right", "baseline": "middle", "font": "DejaVu Sans Mono", "fontSize": 9.85}, "encoding": {"x": {"datum": 65, "type": "quantitative", "axis": null}, "text": {"field": "factor", "type": "quantitative", "format": ".2f"}}},
    {"mark": {"type": "text", "align": "left", "baseline": "middle", "font": "DejaVu Sans Mono", "fontSize": 9.85}, "encoding": {"x": {"datum": 69, "type": "quantitative", "axis": null}, "text": {"field": "remark"}}}
   ]}
 ]},
{"width": 514, "height": 481, "data": {"values": []}, "mark": "point"},
{"width": 2, "height": 481, "data": {"values": []}, "mark": "point", "view": {"fill": "#000000", "stroke": null}}
]
}
